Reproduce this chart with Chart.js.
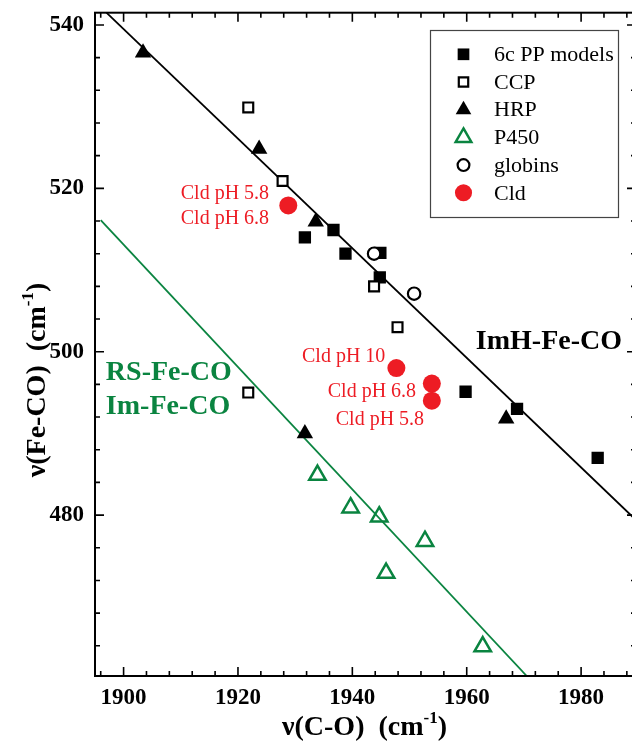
<!DOCTYPE html>
<html>
<head>
<meta charset="utf-8">
<script src="https://cdn.jsdelivr.net/npm/chart.js@4/dist/chart.umd.min.js"></script>
<style>
html, body { margin: 0; padding: 0; overflow: hidden; background: #fff; }
#wrap { width: 648px; height: 742px; position: relative; }
</style>
</head>
<body>
<div id="wrap"><canvas id="c" width="648" height="742"></canvas></div>
<script>
// ---------------- data ----------------
const xTickValues = [1900, 1920, 1940, 1960, 1980];
const yTickValues = [480, 500, 520, 540];

const ppX = [1931.7, 1936.7, 1938.8, 1944.9, 1944.8, 1959.8, 1968.8, 1982.9];
const ppY = [514.0, 514.9, 512.0, 512.1, 509.1, 495.1, 493.0, 487.0];

const ccpX = [1921.8, 1927.8, 1943.8, 1947.9, 1921.8];
const ccpY = [529.9, 520.9, 508.0, 503.0, 495.0];

const hrpX = [1903.4, 1923.7, 1933.6, 1931.7, 1966.9];
const hrpY = [536.6, 524.8, 515.9, 490.0, 491.8];

const p450X = [1933.9, 1939.7, 1944.7, 1952.7, 1945.9, 1962.8];
const p450Y = [484.9, 480.9, 479.8, 476.8, 472.9, 463.9];

const globinX = [1943.8, 1950.8];
const globinY = [512.0, 507.1];

const cldX = [1928.8, 1947.7, 1953.9, 1953.9];
const cldY = [517.9, 498.0, 496.1, 494.0];

// fitted correlation lines (end points)
const imhFitX = [1897, 1989.6];
const imhFitY = [541.5, 479.4];
const rsFitX = [1896, 1970.5];
const rsFitY = [516.1, 460.3];

// ---------------- styles ----------------
const SERIF = '"Liberation Serif", "Times New Roman", Times, serif';
const GREEN = '#0a8440';
const RED = '#ed1c24';
const pts = (xs, ys) => xs.map((x, i) => ({ x: x, y: ys[i] }));

const annotations = [
  { text: 'Cld pH 5.8', x: 1910.0, y: 519.3, font: '20px ' + SERIF, color: RED },
  { text: 'Cld pH 6.8', x: 1910.0, y: 516.25, font: '20px ' + SERIF, color: RED },
  { text: 'Cld pH 10', x: 1931.2, y: 499.4, font: '20px ' + SERIF, color: RED },
  { text: 'Cld pH 6.8', x: 1935.7, y: 495.1, font: '20px ' + SERIF, color: RED },
  { text: 'Cld pH 5.8', x: 1937.1, y: 491.7, font: '20px ' + SERIF, color: RED },
  { text: 'ImH-Fe-CO', x: 1961.6, y: 501.2, font: 'bold 28px ' + SERIF, color: '#000' },
  { text: 'RS-Fe-CO', x: 1896.9, y: 497.4, font: 'bold 28px ' + SERIF, color: GREEN },
  { text: 'Im-Fe-CO', x: 1896.9, y: 493.2, font: 'bold 28px ' + SERIF, color: GREEN }
];

const xTitle = [{ t: '\u03BD(C-O)  (cm' }, { t: '-1', sup: true }, { t: ')' }];
const yTitle = [{ t: '\u03BD(Fe-CO)  (cm' }, { t: '-1', sup: true }, { t: ')' }];

function drawRichText(ctx, parts, size, cx, baseY) {
  const big = 'bold ' + size + 'px ' + SERIF;
  const small = 'bold ' + Math.round(size * 0.62) + 'px ' + SERIF;
  let total = 0;
  parts.forEach(p => { ctx.font = p.sup ? small : big; p.w = ctx.measureText(p.t).width; total += p.w; });
  let x = cx - total / 2;
  ctx.textAlign = 'left';
  ctx.textBaseline = 'alphabetic';
  parts.forEach(p => {
    ctx.font = p.sup ? small : big;
    ctx.fillText(p.t, x, p.sup ? baseY - size * 0.42 : baseY);
    x += p.w;
  });
}

function drawMarker(ctx, ds, x, y, scale) {
  const opts = { pointStyle: ds.pointStyle, radius: ds.pointRadius * scale, borderWidth: ds.borderWidth, rotation: 0 };
  ctx.save();
  ctx.fillStyle = ds.backgroundColor;
  ctx.strokeStyle = ds.borderColor;
  ctx.lineWidth = ds.borderWidth;
  Chart.helpers.drawPoint(ctx, opts, x, y);
  ctx.restore();
}

const decor = {
  id: 'decor',
  afterDatasetsDraw(chart) {
    const ctx = chart.ctx, xs = chart.scales.x, ys = chart.scales.y;
    ctx.save();
    ctx.textAlign = 'left';
    ctx.textBaseline = 'middle';
    annotations.forEach(a => {
      ctx.font = a.font;
      ctx.fillStyle = a.color;
      ctx.fillText(a.text, xs.getPixelForValue(a.x), ys.getPixelForValue(a.y));
    });
    ctx.restore();
  },
  afterDraw(chart) {
    const ctx = chart.ctx, xs = chart.scales.x, ys = chart.scales.y;
    const a = chart.chartArea;
    ctx.save();
    // frame
    ctx.strokeStyle = '#000';
    ctx.lineWidth = 2;
    ctx.strokeRect(a.left, a.top, a.right - a.left, a.bottom - a.top);
    // ticks (inward, all sides)
    ctx.lineWidth = 1.6;
    const major = 9, minor = 5;
    for (let v = Math.ceil(xs.min / 4) * 4; v <= xs.max; v += 4) {
      const p = xs.getPixelForValue(v);
      const L = xTickValues.includes(v) ? major : minor;
      ctx.beginPath();
      ctx.moveTo(p, a.bottom); ctx.lineTo(p, a.bottom - L);
      ctx.moveTo(p, a.top); ctx.lineTo(p, a.top + L);
      ctx.stroke();
    }
    for (let v = Math.ceil(ys.min / 4) * 4; v <= ys.max; v += 4) {
      const p = ys.getPixelForValue(v);
      const L = yTickValues.includes(v) ? major : minor;
      ctx.beginPath();
      ctx.moveTo(a.left, p); ctx.lineTo(a.left + L, p);
      ctx.moveTo(a.right, p); ctx.lineTo(a.right - L, p);
      ctx.stroke();
    }
    // axis titles
    ctx.fillStyle = '#000';
    drawRichText(ctx, xTitle, 28, (a.left + a.right) / 2 - 1, 735);
    ctx.save();
    ctx.translate(44.5, 380);
    ctx.rotate(-Math.PI / 2);
    drawRichText(ctx, yTitle, 28, 0, 0);
    ctx.restore();
    // legend
    const lx = 430.5, ly = 30.5, lw = 188, lh = 187;
    ctx.fillStyle = '#fff';
    ctx.fillRect(lx, ly, lw, lh);
    ctx.strokeStyle = '#444';
    ctx.lineWidth = 1.2;
    ctx.strokeRect(lx, ly, lw, lh);
    const items = chart.data.datasets.filter(d => !d.hideInLegend);
    items.forEach((d, i) => {
      const ry = 54.3 + i * 27.7;
      drawMarker(ctx, d, 463.5, ry, 0.95);
      ctx.fillStyle = '#000';
      ctx.font = '22px ' + SERIF;
      ctx.textAlign = 'left';
      ctx.textBaseline = 'middle';
      ctx.fillText(d.label, 494, ry + 1);
    });
    ctx.restore();
  }
};

new Chart(document.getElementById('c'), {
  type: 'scatter',
  data: {
    datasets: [
      { label: '6c PP models', data: pts(ppX, ppY), pointStyle: 'rect', pointRadius: 8.7,
        backgroundColor: '#000', borderColor: '#000', borderWidth: 0, order: 6 },
      { label: 'CCP', data: pts(ccpX, ccpY), pointStyle: 'rect', pointRadius: 7,
        backgroundColor: '#fff', borderColor: '#000', borderWidth: 2.2, order: 5 },
      { label: 'HRP', data: pts(hrpX, hrpY), pointStyle: 'triangle', pointRadius: 9.5,
        backgroundColor: '#000', borderColor: '#000', borderWidth: 0, order: 4 },
      { label: 'P450', data: pts(p450X, p450Y), pointStyle: 'triangle', pointRadius: 9.5,
        backgroundColor: 'rgba(255,255,255,0)', borderColor: GREEN, borderWidth: 2.5, order: 3 },
      { label: 'globins', data: pts(globinX, globinY), pointStyle: 'circle', pointRadius: 6.2,
        backgroundColor: '#fff', borderColor: '#000', borderWidth: 2.2, order: 2 },
      { label: 'Cld', data: pts(cldX, cldY), pointStyle: 'circle', pointRadius: 9,
        backgroundColor: RED, borderColor: RED, borderWidth: 0, order: 1 },
      { label: 'ImH-Fe-CO fit', hideInLegend: true, data: pts(imhFitX, imhFitY), showLine: true,
        pointRadius: 0, borderColor: '#000', borderWidth: 1.8, tension: 0, order: 8 },
      { label: 'RS-Fe-CO fit', hideInLegend: true, data: pts(rsFitX, rsFitY), showLine: true,
        pointRadius: 0, borderColor: GREEN, borderWidth: 1.8, tension: 0, order: 7 }
    ]
  },
  options: {
    responsive: false,
    animation: false,
    events: [],
    layout: { padding: { left: 0, top: 12.7, right: 4, bottom: 0 } },
    plugins: { legend: { display: false }, tooltip: { enabled: false } },
    scales: {
      x: {
        type: 'linear', min: 1895, max: 1989.6,
        afterBuildTicks: s => { s.ticks = xTickValues.map(v => ({ value: v })); },
        ticks: { color: '#000', padding: 8, maxRotation: 0, autoSkip: false,
                 callback: v => String(v),
                 font: { family: SERIF, size: 23, weight: 'bold' } },
        grid: { display: false, drawTicks: false },
        border: { display: false },
        afterFit: s => { s.height = 66; s.paddingLeft = 0; s.paddingRight = 0; }
      },
      y: {
        type: 'linear', min: 460.3, max: 541.5,
        afterBuildTicks: s => { s.ticks = yTickValues.map(v => ({ value: v })); },
        ticks: { color: '#000', padding: 11, autoSkip: false,
                 callback: v => String(v),
                 font: { family: SERIF, size: 23, weight: 'bold', lineHeight: 1 } },
        grid: { display: false, drawTicks: false },
        border: { display: false },
        afterFit: s => { s.width = 95; s.paddingTop = 0; s.paddingBottom = 0; }
      }
    }
  },
  plugins: [decor]
});
</script>
</body>
</html>
